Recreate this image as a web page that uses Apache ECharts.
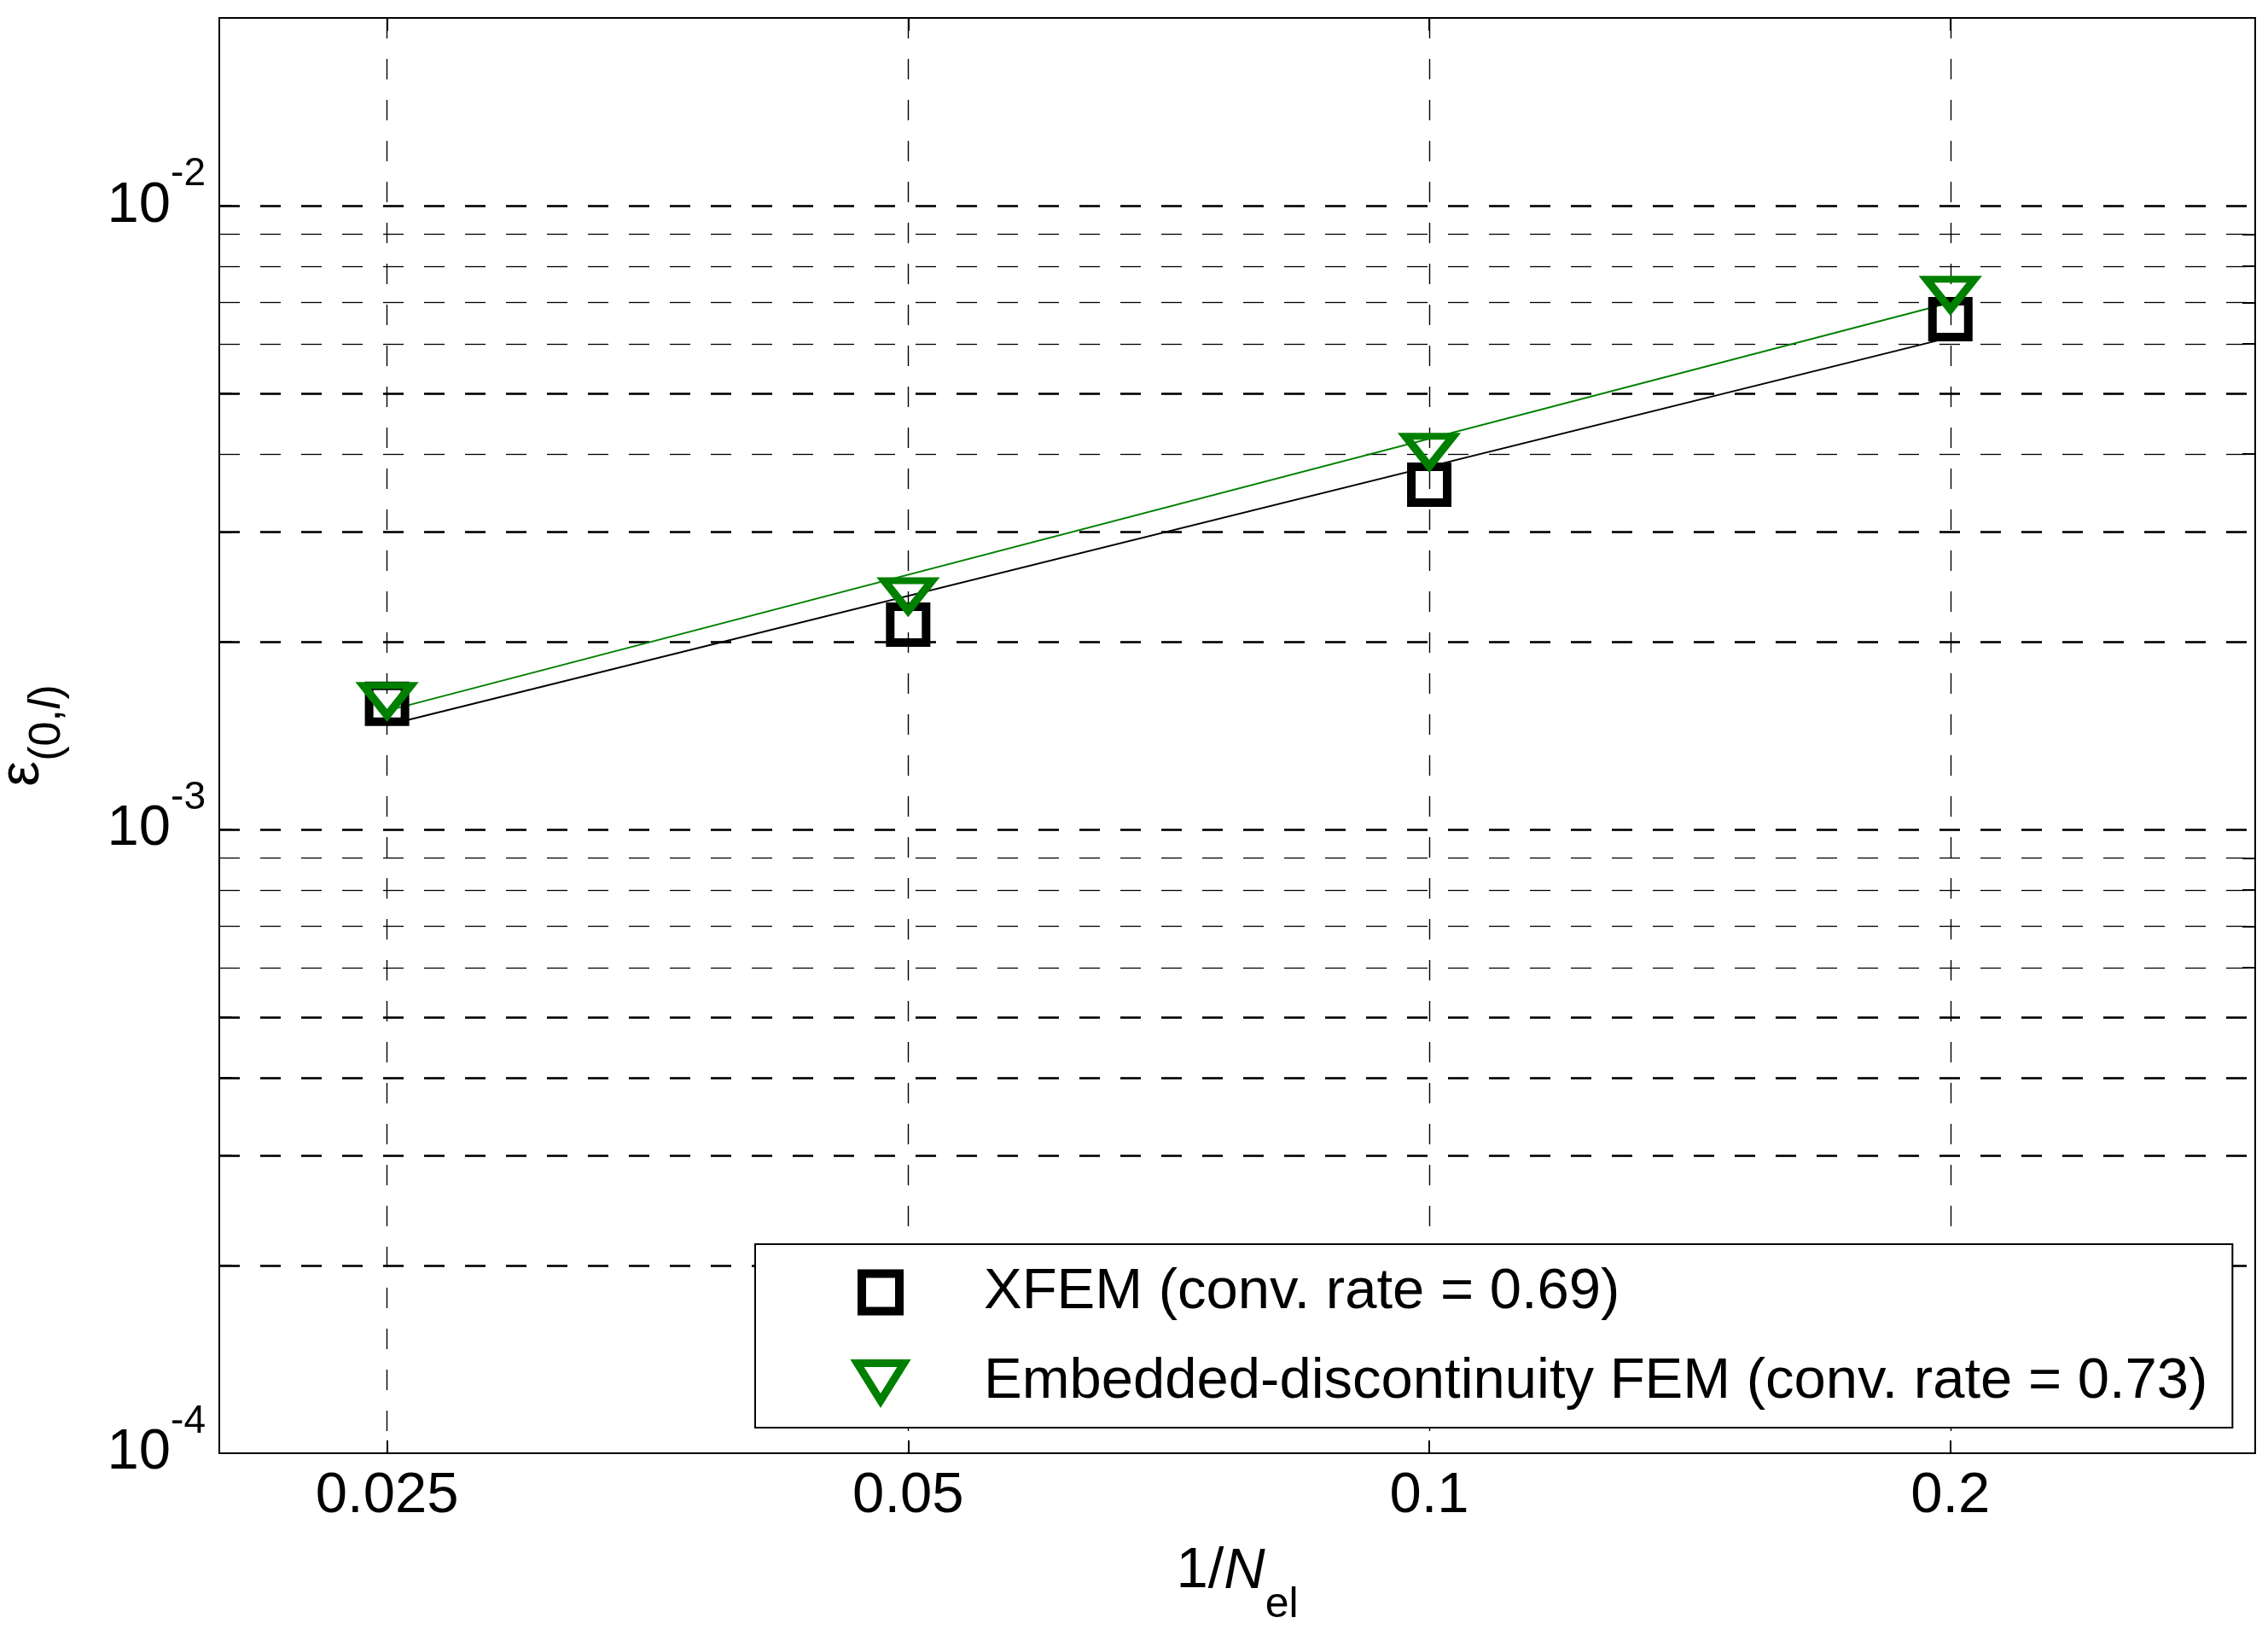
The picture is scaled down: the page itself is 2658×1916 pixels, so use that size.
<!DOCTYPE html>
<html>
<head>
<meta charset="utf-8">
<title>Convergence</title>
<script src="https://cdn.jsdelivr.net/npm/echarts@6/dist/echarts.min.js"></script>
<style>
  html, body { margin: 0; padding: 0; background: #fff; }
  #chart { width: 2658px; height: 1916px; }
</style>
</head>
<body>
<div id="chart"></div>
<script>
// mesh size 1/N_el
var xValues = [0.025, 0.05, 0.1, 0.2];
// error eps(0,l)
var xfemErr = [1.59e-3, 2.13e-3, 3.57e-3, 6.58e-3];
var edfemErr = [1.61e-3, 2.37e-3, 4.04e-3, 7.21e-3];
// fitted rate lines (end points)
var fitX = [0.025, 0.2];
var xfemFit = [1.47e-3, 6.15e-3];
var edfemFit = [1.55e-3, 6.99e-3];
// axis ticks
var xTicks = [0.025, 0.05, 0.1, 0.2];
var yLabels = [1e-4, 1e-3, 1e-2];
var yGridStrong = [2e-4, 3e-4, 4e-4, 5e-4, 1e-3, 2e-3, 3e-3, 5e-3, 1e-2];
var yGridWeak = [6e-4, 7e-4, 8e-4, 9e-4, 4e-3, 6e-3, 7e-3, 8e-3, 9e-3];
var names = ['XFEM (conv. rate = 0.69)', 'Embedded-discontinuity FEM (conv. rate = 0.73)'];

var font = '"Liberation Sans", Arial, sans-serif';
var dash = [24, 24];

function pairs(xs, ys) {
    var out = [];
    for (var i = 0; i < xs.length; i++) {
        out.push([xs[i], ys[i]]);
    }
    return out;
}

var myChart = echarts.init(document.getElementById('chart'));

var option = {
    animation: false,
    backgroundColor: '#fff',
    textStyle: { fontFamily: font },
    grid: {
        left: 257, top: 21, right: 15, bottom: 213,
        show: true, borderColor: '#000', borderWidth: 2,
        backgroundColor: 'transparent',
        outerBoundsMode: 'none'
    },
    legend: {
        orient: 'vertical',
        left: 885,
        top: 1458,
        data: [
            { name: names[0], itemStyle: { color: 'rgba(0,0,0,0)', borderColor: '#000', borderWidth: 10 } },
            { name: names[1], itemStyle: { color: 'rgba(0,0,0,0)', borderColor: '#008000', borderWidth: 9 } }
        ],
        itemWidth: 58,
        itemHeight: 44,
        itemGap: 38,
        padding: [23, 29, 20, 115],
        backgroundColor: '#fff',
        borderColor: '#000',
        borderWidth: 2,
        borderRadius: 0,
        selectedMode: false,
        formatter: function (name) { return '{t|' + name + '}'; },
        textStyle: {
            color: '#000', fontFamily: font, fontSize: 67,
            rich: { t: { fontSize: 67, fontFamily: font, color: '#000', padding: [0, 0, 0, 87] } }
        }
    },
    xAxis: [{
        type: 'log',
        logBase: 10,
        min: 0.02,
        max: 0.3,
        position: 'bottom',
        name: '{n|1/}{i|N}{s|el}',
        nameLocation: 'middle',
        nameGap: 75,
        nameMoveOverlap: false,
        nameTextStyle: {
            color: '#000',
            rich: {
                n: { fontSize: 67, fontFamily: font, color: '#000' },
                i: { fontSize: 67, fontFamily: font, fontStyle: 'italic', color: '#000' },
                s: { fontSize: 50, fontFamily: font, color: '#000', padding: [78, 0, 0, 0] }
            }
        },
        axisLine: { show: true, lineStyle: { color: '#000', width: 2 } },
        axisTick: { show: true, inside: true, length: 15, customValues: xTicks, lineStyle: { color: '#000', width: 2 } },
        axisLabel: {
            show: true, customValues: xTicks, margin: 17,
            color: '#000', fontSize: 67, fontFamily: font,
            formatter: function (v) { return String(+Number(v).toPrecision(6)); }
        },
        splitLine: { show: true, lineStyle: { color: '#000', width: 1.4, type: dash } },
        minorTick: { show: false },
        minorSplitLine: { show: false }
    }, {
        type: 'log',
        logBase: 10,
        min: 0.02,
        max: 0.3,
        position: 'top',
        axisLine: { show: true, lineStyle: { color: '#000', width: 2 } },
        axisTick: { show: true, inside: true, length: 15, customValues: xTicks, lineStyle: { color: '#000', width: 2 } },
        axisLabel: { show: false },
        splitLine: { show: false }
    }],
    yAxis: [{
        type: 'log',
        logBase: 10,
        min: 1e-4,
        max: 2e-2,
        position: 'left',
        name: '{e|ε}{s|(0,}{si|l}{s|)}',
        nameLocation: 'middle',
        nameGap: 175,
        nameMoveOverlap: false,
        nameTextStyle: {
            color: '#000',
            rich: {
                e: { fontSize: 67, fontFamily: font, color: '#000' },
                s: { fontSize: 52, fontFamily: font, color: '#000', padding: [58, 0, 0, 0] },
                si: { fontSize: 52, fontFamily: font, fontStyle: 'italic', color: '#000', padding: [58, 0, 0, 0] }
            }
        },
        axisLine: { show: true, lineStyle: { color: '#000', width: 2 } },
        axisTick: { show: true, inside: true, length: 15, customValues: yGridStrong, lineStyle: { color: '#000', width: 2 } },
        axisLabel: {
            show: true, customValues: yLabels, margin: 16,
            color: '#000',
            formatter: function (v) {
                var p = Math.round(Math.log(v) / Math.LN10);
                return '{b|10}{s|' + p + '}';
            },
            rich: {
                b: { fontSize: 67, fontFamily: font, color: '#000' },
                s: { fontSize: 46, fontFamily: font, color: '#000', padding: [0, 0, 73, 0] }
            }
        },
        splitLine: { show: true, lineStyle: { color: '#000', width: 2.6, type: dash } },
        minorTick: { show: false },
        minorSplitLine: { show: false }
    }, {
        type: 'log',
        logBase: 10,
        min: 1e-4,
        max: 2e-2,
        position: 'right',
        axisLine: { show: true, lineStyle: { color: '#000', width: 2 } },
        axisTick: { show: true, inside: true, length: 15, customValues: yGridWeak, lineStyle: { color: '#000', width: 2 } },
        axisLabel: { show: false },
        splitLine: { show: true, lineStyle: { color: '#000', width: 1.3, type: dash } }
    }],
    series: [{
        name: 'XFEM fit',
        type: 'line',
        xAxisIndex: 0, yAxisIndex: 0,
        data: pairs(fitX, xfemFit),
        symbol: 'none',
        silent: true,
        lineStyle: { color: '#000', width: 2 },
        z: 2
    }, {
        name: 'ED-FEM fit',
        type: 'line',
        xAxisIndex: 0, yAxisIndex: 0,
        data: pairs(fitX, edfemFit),
        symbol: 'none',
        silent: true,
        lineStyle: { color: '#008000', width: 2 },
        z: 2
    }, {
        name: names[0],
        type: 'scatter',
        xAxisIndex: 0, yAxisIndex: 0,
        data: pairs(xValues, xfemErr),
        symbol: 'path://M0,0L10,0L10,10L0,10Z',
        symbolKeepAspect: true,
        symbolSize: [42, 42],
        itemStyle: { color: 'rgba(0,0,0,0)', borderColor: '#000', borderWidth: 10, opacity: 1 },
        z: 3
    }, {
        name: names[1],
        type: 'scatter',
        xAxisIndex: 0, yAxisIndex: 0,
        data: pairs(xValues, edfemErr),
        symbol: 'path://M0,0L10,0L5,8Z',
        symbolKeepAspect: true,
        symbolSize: [56, 44],
        itemStyle: { color: 'rgba(0,0,0,0)', borderColor: '#008000', borderWidth: 9, opacity: 1 },
        z: 4
    }]
};

myChart.setOption(option);
</script>
</body>
</html>
